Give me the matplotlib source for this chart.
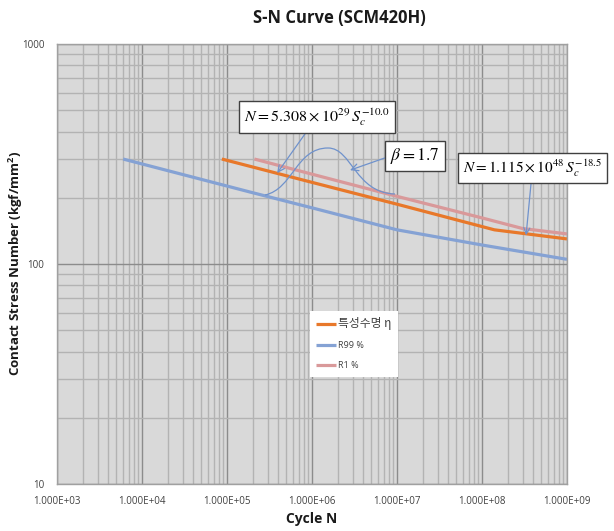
import matplotlib
matplotlib.use("Agg")
import matplotlib.pyplot as plt
from matplotlib.path import Path
from matplotlib.patches import PathPatch
from matplotlib.ticker import FixedLocator, LogLocator, NullFormatter, FixedFormatter

plt.rcParams['font.family'] = ['Open Sans', 'Noto Sans CJK KR', 'DejaVu Sans']
plt.rcParams['mathtext.fontset'] = 'stix'

# ---- data ----
eta_N = [8.7e4, 1.0e6, 1.0e7, 1.4e8, 1.0e9]
eta_S = [300, 235, 187, 143, 130]
r99_N = [6.0e3, 1.9e5, 1.0e6, 1.0e7, 1.0e8, 1.0e9]
r99_S = [300, 212, 180, 143, 122, 105]
r1_N = [2.1e5, 1.0e6, 1.0e7, 1.0e8, 3.0e8, 1.0e9]
r1_S = [300, 256, 203, 162, 145, 137]

labels = ['특성수명 η', 'R99 %', 'R1 %']
xticks = [1e3, 1e4, 1e5, 1e6, 1e7, 1e8, 1e9]
xticklabels = ['1.000E+03', '1.000E+04', '1.000E+05', '1.000E+06',
               '1.000E+07', '1.000E+08', '1.000E+09']
yticks = [10, 100, 1000]
yticklabels = ['10', '100', '1000']

W, H = 614, 531
fig = plt.figure(figsize=(W / 100, H / 100), dpi=100)
fig.patch.set_facecolor('white')
L, R, T, B = 57, 567, 44, 484
ax = fig.add_axes([L / W, 1 - B / H, (R - L) / W, (B - T) / H])
ax.set_facecolor('#d9d9d9')
ax.set_xscale('log')
ax.set_yscale('log')
ax.set_xlim(1e3, 1e9)
ax.set_ylim(10, 1000)

ax.xaxis.set_major_locator(FixedLocator(xticks))
ax.xaxis.set_major_formatter(FixedFormatter(xticklabels))
ax.yaxis.set_major_locator(FixedLocator(yticks))
ax.yaxis.set_major_formatter(FixedFormatter(yticklabels))
ax.xaxis.set_minor_locator(LogLocator(base=10, subs=range(2, 10)))
ax.yaxis.set_minor_locator(LogLocator(base=10, subs=range(2, 10)))
ax.xaxis.set_minor_formatter(NullFormatter())
ax.yaxis.set_minor_formatter(NullFormatter())
ax.tick_params(which='both', length=0)
ax.tick_params(axis='x', labelsize=7, colors='#404040', pad=9)
ax.tick_params(axis='y', labelsize=7, colors='#404040', pad=9)
ax.grid(which='major', color='#8c8c8c', linewidth=1.0)
ax.grid(which='minor', color='#b3b3b3', linewidth=1.0)
ax.set_axisbelow(True)
for s in ax.spines.values():
    s.set_color('#a0a0a0')
    s.set_linewidth(1.0)

l1, = ax.plot(eta_N, eta_S, color='#e8782a', lw=2.3, label=labels[0], solid_capstyle='butt')
l2, = ax.plot(r99_N, r99_S, color='#85a2d4', lw=2.3, label=labels[1], solid_capstyle='butt')
l3, = ax.plot(r1_N, r1_S, color='#d9999a', lw=2.3, label=labels[2], solid_capstyle='butt')

fig.text(0.553, 1 - 18 / H, 'S-N Curve (SCM420H)', ha='center', va='center',
         fontsize=12, fontweight='bold', color='#1a1a1a')
fig.text(312 / W, 1 - 519 / H, 'Cycle N', ha='center', va='center',
         fontsize=10, fontweight='bold', color='#1a1a1a')
fig.text(16 / W, 1 - 263 / H, 'Contact Stress Number (kgf/mm$^\\mathregular{2}$)',
         ha='center', va='center', rotation=90, fontsize=9.5,
         fontweight='bold', color='#1a1a1a')

leg = ax.legend(handles=[l1, l2, l3], loc='upper left',
                bbox_to_anchor=((305 - L) / (R - L), (B - 306) / (B - T)),
                frameon=True, fancybox=False, framealpha=1, edgecolor='white',
                facecolor='white', handlelength=2.2, labelspacing=1.25,
                borderpad=0.7, handletextpad=0.3, fontsize=6.5)
leg.get_frame().set_linewidth(0)
for t in leg.get_texts():
    t.set_color('#404040')
leg.get_texts()[0].set_fontsize(8.5)
leg.get_texts()[0].set_fontfamily(['Noto Sans CJK KR', 'DejaVu Sans'])

arrow_col = '#6f92cc'
box = dict(boxstyle='square,pad=0.3', facecolor='white', edgecolor='#404040', linewidth=1.0)
ap = dict(arrowstyle='->', color=arrow_col, lw=0.9, shrinkA=0, shrinkB=0)

ax.annotate(r'$N = 5.308\times10^{29}\,S_c^{-10.0}$', xy=(3.9e5, 259),
            xytext=(317 / W, 1 - 117 / H), textcoords='figure fraction',
            ha='center', va='center', fontsize=11.5, bbox=box, arrowprops=ap)
ax.annotate(r'$\beta = 1.7$', xy=(2.8e6, 267),
            xytext=(415 / W, 1 - 156 / H), textcoords='figure fraction',
            ha='center', va='center', fontsize=12.5, bbox=box,
            arrowprops=dict(ap, relpos=(0, 0.5)))
ax.annotate(r'$N = 1.115\times10^{48}\,S_c^{-18.5}$', xy=(3.3e8, 135),
            xytext=(463 / W, 1 - 168 / H), textcoords='figure fraction',
            ha='left', va='center', fontsize=11, bbox=box,
            arrowprops=dict(ap, relpos=(0.5, 0.5)),
            annotation_clip=False)

# decorative Weibull-like distribution sketch (figure pixel positions)
pts = [(265, 195), (293, 189), (296, 148), (328, 148),
       (352, 148), (355, 193), (395, 194)]
verts = [(x / W, 1 - y / H) for x, y in pts]
codes = [Path.MOVETO, Path.CURVE4, Path.CURVE4, Path.CURVE4,
         Path.CURVE4, Path.CURVE4, Path.CURVE4]
fig.patches.append(PathPatch(Path(verts, codes), transform=fig.transFigure,
                             facecolor='none', edgecolor=arrow_col, lw=0.9))

fig.savefig('out.png', dpi=100)
